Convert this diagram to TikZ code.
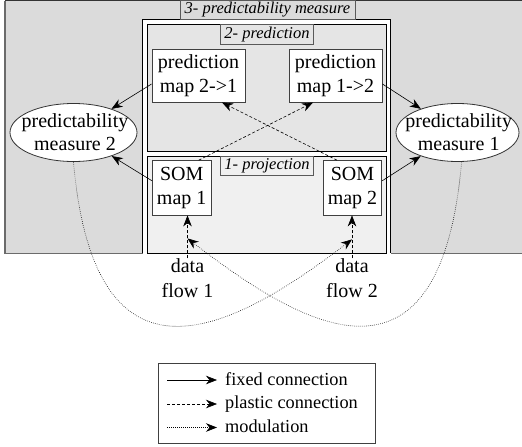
\documentclass[tikz,border=0pt]{standalone}
\usepackage{fontspec}
\setmainfont{Liberation Serif}
\usetikzlibrary{arrows.meta,shapes.geometric,calc}
\definecolor{gA}{gray}{0.86}
\definecolor{gB}{gray}{0.90}
\definecolor{gC}{gray}{0.94}
\definecolor{bord}{gray}{0.42}
\begin{document}
\begin{tikzpicture}[x=1pt,y=-1pt,
  txt/.style={align=center, inner sep=0pt, font=\fontsize{20}{23.5}\selectfont},
  box/.style={txt, draw=black!75, line width=0.9pt, fill=white},
  ell/.style={ellipse, draw=black!80, line width=0.8pt, fill=white, inner sep=0pt},
  lbl/.style={draw=black!65, line width=0.8pt, font=\fontsize{16.5}{19}\selectfont\itshape, inner sep=0pt},
  conn/.style={line width=0.6pt, -{Stealth[length=11pt,width=8.5pt,inset=3.5pt]}},
  fixedc/.style={conn},
  plastic/.style={conn, dash pattern=on 3pt off 2pt},
  modul/.style={conn, dash pattern=on 0.6pt off 1.4pt},
  legtxt/.style={anchor=base west, inner sep=0pt, font=\fontsize{18.3}{22}\selectfont},
]
\useasboundingbox (0,0) rectangle (522,447);
% outer gray panel
\fill[gA] (5,0.5) rectangle (540,253.3);
\draw[bord, line width=1.5pt] (540,253.3) -- (5,253.3) -- (5,0.5);
\draw[black!80, line width=1pt] (5,0.5) -- (540,0.5);
% white frame
\fill[white] (142.7,19.3) rectangle (390.7,256);
\draw[black, line width=0.9pt] (142.7,253.3) -- (142.7,19.3) -- (390.7,19.3) -- (390.7,253.3);
\node[lbl, fill=gA, minimum width=175pt, minimum height=19pt] (lab3) at (267.5,10) {3- predictability measure};
% prediction box
\draw[black, line width=0.9pt, fill=gB] (147.7,24) rectangle (386.7,151.7);
\node[lbl, fill=gB, minimum width=92.6pt, minimum height=20pt] (lab2) at (267,34.2) {2- prediction};
% projection box
\draw[black, line width=0.9pt, fill=gC] (147.7,156.3) rectangle (386.7,253.3);
\node[lbl, fill=gC, minimum width=92.6pt, minimum height=18.5pt] (lab1) at (267,166) {1- projection};
% nodes
\node[box, minimum width=93pt, minimum height=53pt] (p21) at (198.5,75.5) {prediction\\map 2->1};
\node[box, minimum width=93pt, minimum height=53pt] (p12) at (335.5,75.5) {prediction\\map 1->2};
\node[box, minimum width=58.5pt, minimum height=54.3pt] (s1) at (181.7,187.8) {SOM\\map 1};
\node[box, minimum width=58.5pt, minimum height=54.3pt] (s2) at (352.5,187.8) {SOM\\map 2};
\node[ell, minimum width=127pt, minimum height=58pt] (e2) at (73.5,132.5) {};
\node[txt] (e2t) at (75,132) {predictability\\measure 2};
\node[ell, minimum width=123pt, minimum height=58pt] (e1) at (457.5,132.5) {};
\node[txt] (e1t) at (458.7,132) {predictability\\measure 1};
\node[txt, anchor=north, font=\fontsize{20}{25}\selectfont] (d1) at (187.5,258.4) {data\\flow 1};
\node[txt, anchor=north, font=\fontsize{20}{25}\selectfont] (d2) at (352,258.4) {data\\flow 2};
% fixed connections
\draw[fixedc] ($(p21.west)+(0,8.5)$) -- (e2);
\draw[fixedc] ($(s1.west)+(0,-7)$) -- (e2);
\draw[fixedc] ($(p12.east)+(0,8.5)$) -- (e1);
\draw[fixedc] ($(s2.east)+(0,-7)$) -- (e1);
% plastic connections
\draw[plastic] ($(s1.north)+(17,0)$) -- ($(p12.south)+(-22.5,0)$);
\draw[plastic] ($(s2.north)+(-15.5,0)$) -- ($(p21.south)+(23.5,0)$);
\draw[plastic] (d1.north) -- (d1.north |- s1.south);
\draw[plastic] (d2.north) -- (d2.north |- s2.south);
% modulation
\coordinate (m1) at ($(d1.north)+(0,-20)$);
\coordinate (m2) at ($(d2.north)+(0,-19)$);
\draw[modul] (e2.south) .. controls (95,410) and (240,325) .. (m2);
\draw[modul] (e1.-82) .. controls (440,410) and (300,325) .. (m1);
% legend
\node[draw=black!75, line width=0.8pt, minimum width=217pt, minimum height=80pt, inner sep=0pt] (leg) at (266.5,403) {};
\coordinate (la) at (167,380); \coordinate (lb) at (217,380);
\coordinate (lc) at (167,404); \coordinate (ld) at (217,404);
\coordinate (le) at (167,427.5); \coordinate (lf) at (217,427.5);
\draw[fixedc] (la) -- (lb);
\draw[plastic] (lc) -- (ld);
\draw[modul] (le) -- (lf);
\node[legtxt] (t1) at (225,385.5) {fixed connection};
\node[legtxt] (t2) at (225,408.5) {plastic connection};
\node[legtxt] (t3) at (225,432.3) {modulation};
\end{tikzpicture}
\end{document}
